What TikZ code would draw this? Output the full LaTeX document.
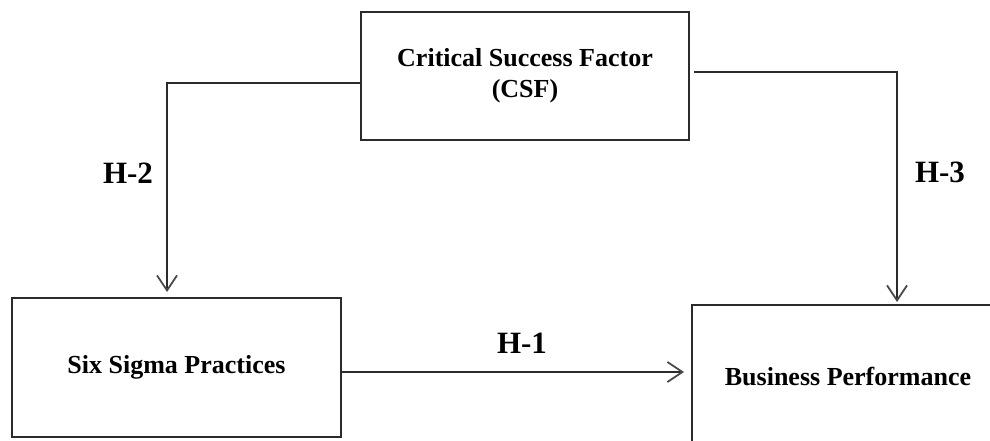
\documentclass[tikz,border=0pt]{standalone}
\usepackage{fontspec}
\setmainfont{Liberation Serif}
\usetikzlibrary{arrows.meta,positioning,calc}
\definecolor{lineGray}{HTML}{2B2B2B}
\definecolor{tipGray}{HTML}{4A4A4A}

\begin{document}
\begin{tikzpicture}[x=1pt,y=-1pt,
  box/.style={rectangle,draw=lineGray,line width=1.4pt,font=\fontsize{26}{31}\selectfont\bfseries,align=center,inner sep=0pt},
  hyp/.style={font=\fontsize{31}{36}\selectfont\bfseries,inner sep=0pt},
  link/.style={draw=lineGray,line width=1.4pt,-{Straight Barb[length=15pt,width=20pt,line width=1.8pt,color=tipGray]}}
]
\useasboundingbox (0,0) rectangle (990,441);
\node[box,minimum width=328pt,minimum height=128pt] (csf) at (525,76) {Critical Success Factor\\(CSF)};
\node[box,minimum width=329pt,minimum height=139pt] (six) at (176.5,367.5) {Six Sigma Practices};
\node[box,minimum width=312pt,minimum height=144pt] (perf) at (848,377) {Business Performance};

\coordinate (bendL) at (167,83);  \coordinate (tipL) at (167,292);
\coordinate (bendR) at (897,72);  \coordinate (tipR) at (897,302);
\coordinate (tipM) at (684,372);

\draw[link] (csf.west |- bendL) -- (bendL) -- (tipL);
\draw[link] ($(csf.east |- bendR)+(4,0)$) -- (bendR) -- (tipR);
\draw[link] (six.east |- tipM) -- (tipM);

\node[hyp] (h1) at (522,343) {H-1};
\node[hyp] (h2) at (128,173) {H-2};
\node[hyp] (h3) at (940,172) {H-3};
\end{tikzpicture}
\end{document}
